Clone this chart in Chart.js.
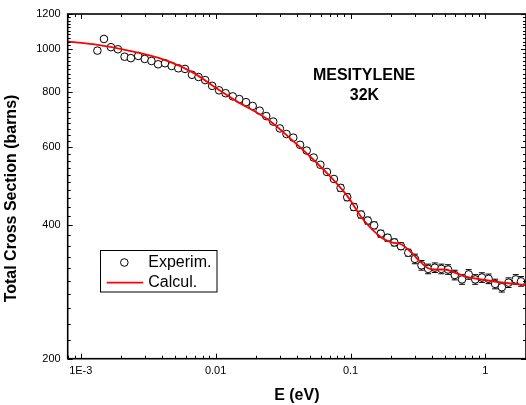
<!DOCTYPE html>
<html><head><meta charset="utf-8">
<script src="https://cdn.jsdelivr.net/npm/chart.js@4.4.1/dist/chart.umd.min.js"></script>
<style>html,body{margin:0;padding:0;overflow:hidden;background:#fff}canvas{display:block}</style>
</head><body>
<canvas id="c" width="532" height="405"></canvas>
<script>
// ---- data ----
const expE = [1.328e-3,1.486e-3,1.674e-3,1.885e-3,2.113e-3,2.351e-3,2.666e-3,2.982e-3,3.342e-3,3.745e-3,
  4.217e-3,4.72e-3,5.285e-3,5.925e-3,6.674e-3,7.464e-3,8.364e-3,9.424e-3,0.01061,0.01185,
  0.0134,0.01498,0.0168,0.01882,0.0212,0.02371,0.02671,0.02992,0.03352,0.03763,
  0.04224,0.04735,0.05331,0.05976,0.06685,0.0753,0.08437,0.09454,0.1058,0.1196,
  0.1342,0.1496,0.1674,0.1885,0.2112,0.2366,0.2679,0.3002,0.3359,0.3763,
  0.4218,0.4719,0.5287,0.5925,0.671,0.7516,0.8407,0.9423,1.056,1.181,
  1.324,1.483,1.679,1.837];
const expV = [992,1054,1010,999,961,954,965,950,940,924,
  929,916,905,902,875,865,851,826,807,795,
  782,771,759,744,726,706,686,662,643,631,
  608,590,569,548,528,509,486,463,440,423,
  410,400,383,375,366,359,347,336,325,319,
  321,319,318,309,302,310,302,305,303,295,
  290,297,302,299];
const expErr = [0.012,0.012,0.012,0.012,0.012,0.012,0.012,0.012,0.012,0.012,
  0.012,0.012,0.012,0.012,0.012,0.012,0.012,0.012,0.012,0.012,
  0.012,0.012,0.012,0.012,0.012,0.012,0.012,0.012,0.012,0.012,
  0.012,0.012,0.012,0.012,0.012,0.012,0.018,0.018,0.018,0.018,
  0.018,0.018,0.018,0.018,0.018,0.018,0.018,0.025,0.025,0.025,
  0.025,0.025,0.025,0.025,0.025,0.025,0.025,0.025,0.025,0.025,
  0.025,0.025,0.025,0.025];
const calcE = [8.0e-4,1.23e-3,2.174e-3,3.83e-3,6.744e-3,0.01061,0.01417,0.02482,0.03669,0.04898,
  0.06882,0.09665,0.1212,0.1702,0.2017,0.2391,0.2834,0.3359,0.3763,0.4218,
  0.5,0.5925,0.7022,0.9311,1.237,2.0];
const calcV = [1040,1026,995,954,886,808,764,691,624,576,
  520,462,416,375,366,362,347,329,320,318,
  318,313,307,302,298,293];
const seriesNames = ['Experim.', 'Calcul.'];
const xMajor = [0.001, 0.01, 0.1, 1];
const xLabels = ['1E-3', '0.01', '0.1', '1'];
const yMajor = [200, 400, 600, 800, 1000, 1200];
const yLabels = ['200', '400', '600', '800', '1000', '1200'];
const titleX = 'E (eV)';
const titleY = 'Total Cross Section (barns)';
const noteLines = ['MESITYLENE', '32K'];

// ---- tick lists ----
const xTickVals = [];
[1e-4, 1e-3, 1e-2, 1e-1, 1].forEach(d => {
  for (let m = 1; m <= 9; m++) {
    const v = +(m * d).toPrecision(6);
    if (v >= 8e-4 - 1e-12 && v <= 2 + 1e-9) xTickVals.push(v);
  }
});
const yTickVals = [];
for (let v = 200; v <= 1200; v += 20) yTickVals.push(v);

const isMaj = (arr, v) => arr.some(m => Math.abs(m - v) / m < 1e-6);
const FONT = "'Liberation Sans', Arial, Helvetica, sans-serif";

const errorBars = {
  id: 'errorBars',
  beforeDatasetDraw(chart, args) {
    if (args.index !== 0) return;
    const {ctx, chartArea: a, scales: {y}} = chart;
    const meta = chart.getDatasetMeta(0);
    ctx.save();
    ctx.beginPath(); ctx.rect(a.left, a.top, a.right - a.left, a.bottom - a.top); ctx.clip();
    ctx.strokeStyle = '#000'; ctx.lineWidth = 1;
    ctx.beginPath();
    meta.data.forEach((pt, i) => {
      const y1 = y.getPixelForValue(expV[i] * (1 + expErr[i]));
      const y2 = y.getPixelForValue(expV[i] * (1 - expErr[i]));
      ctx.moveTo(pt.x, y1); ctx.lineTo(pt.x, y2);
      ctx.moveTo(pt.x - 3, y1); ctx.lineTo(pt.x + 3, y1);
      ctx.moveTo(pt.x - 3, y2); ctx.lineTo(pt.x + 3, y2);
    });
    ctx.stroke();
    ctx.restore();
  }
};

const frame = {
  id: 'frame',
  afterDraw(chart) {
    const {ctx, chartArea: a, scales: {x, y}} = chart;
    ctx.save();
    ctx.strokeStyle = '#000';
    ctx.lineWidth = 1;
    ctx.beginPath();
    x.ticks.forEach(t => {
      const px = Math.round(x.getPixelForValue(t.value)) + 0.5;
      const L = isMaj(xMajor, t.value) ? 5 : 3;
      ctx.moveTo(px, a.bottom); ctx.lineTo(px, a.bottom - L);
      ctx.moveTo(px, a.top); ctx.lineTo(px, a.top + L);
    });
    y.ticks.forEach(t => {
      const py = Math.round(y.getPixelForValue(t.value)) + 0.5;
      const L = isMaj(yMajor, t.value) ? 5 : 3;
      ctx.moveTo(a.left, py); ctx.lineTo(a.left + L, py);
      ctx.moveTo(a.right, py); ctx.lineTo(a.right - L, py);
    });
    ctx.stroke();
    ctx.lineWidth = 1.6;
    ctx.strokeRect(a.left, a.top, a.right - a.left, a.bottom - a.top);

    // axis titles
    ctx.fillStyle = '#000';
    ctx.font = 'bold 16px ' + FONT;
    ctx.textAlign = 'center'; ctx.textBaseline = 'middle';
    ctx.fillText(titleX, (a.left + a.right) / 2, 396);
    ctx.save();
    ctx.translate(12, 198.5); ctx.rotate(-Math.PI / 2);
    ctx.fillText(titleY, 0, 0);
    ctx.restore();

    // annotation
    ctx.fillText(noteLines[0], 364, 76);
    ctx.fillText(noteLines[1], 364.5, 96);

    // legend
    const ds = chart.data.datasets;
    ctx.lineWidth = 1;
    ctx.strokeRect(100.5, 250.5, 116.5, 41.5);
    ctx.beginPath(); ctx.arc(124.3, 262.5, 3.8, 0, Math.PI * 2);
    ctx.fillStyle = '#fff'; ctx.fill(); ctx.strokeStyle = '#000'; ctx.stroke();
    ctx.beginPath(); ctx.moveTo(106.7, 282.7); ctx.lineTo(143.3, 282.7);
    ctx.strokeStyle = ds[1].borderColor; ctx.lineWidth = 1.8; ctx.stroke();
    ctx.fillStyle = '#000';
    ctx.font = '16px ' + FONT;
    ctx.textAlign = 'left';
    ctx.fillText(ds[0].label, 148.3, 263);
    ctx.fillText(ds[1].label, 148.3, 283);
    ctx.restore();
  }
};

new Chart(document.getElementById('c'), {
  type: 'scatter',
  data: {
    datasets: [
      {
        label: seriesNames[0],
        data: expE.map((e, i) => ({x: e, y: expV[i]})),
        showLine: false,
        pointRadius: 3.8,
        pointBorderWidth: 1,
        pointBorderColor: '#000',
        pointBackgroundColor: '#fff',
        order: 2
      },
      {
        label: seriesNames[1],
        data: calcE.map((e, i) => ({x: e, y: calcV[i]})),
        showLine: true,
        borderColor: '#ff0000',
        borderWidth: 1.8,
        pointRadius: 0,
        cubicInterpolationMode: 'monotone',
        fill: false,
        order: 1
      }
    ]
  },
  options: {
    responsive: false,
    animation: false,
    devicePixelRatio: 1,
    layout: {padding: {top: 14, left: 0, right: 3.3, bottom: 0}},
    plugins: {legend: {display: false}, tooltip: {enabled: false}},
    scales: {
      x: {
        type: 'logarithmic', position: 'bottom', min: 8e-4, max: 2,
        afterBuildTicks: s => { s.ticks = xTickVals.map(v => ({value: v})); },
        afterFit: s => { s.height = 46.3; },
        ticks: {
          autoSkip: false, maxRotation: 0, minRotation: 0, padding: 6, color: '#000',
          font: {family: FONT, size: 11},
          callback: v => { const i = xMajor.findIndex(m => Math.abs(m - v) / m < 1e-6); return i >= 0 ? xLabels[i] : ''; }
        },
        grid: {display: false, drawTicks: false},
        border: {display: false}
      },
      y: {
        type: 'logarithmic', position: 'left', min: 200, max: 1200,
        afterBuildTicks: s => { s.ticks = yTickVals.map(v => ({value: v})); },
        afterFit: s => { s.width = 67.7; },
        ticks: {
          autoSkip: false, padding: 7, color: '#000',
          font: {family: FONT, size: 11},
          callback: v => { const i = yMajor.findIndex(m => Math.abs(m - v) / m < 1e-6); return i >= 0 ? yLabels[i] : ''; }
        },
        grid: {display: false, drawTicks: false},
        border: {display: false}
      }
    }
  },
  plugins: [errorBars, frame]
});
</script>
</body></html>
